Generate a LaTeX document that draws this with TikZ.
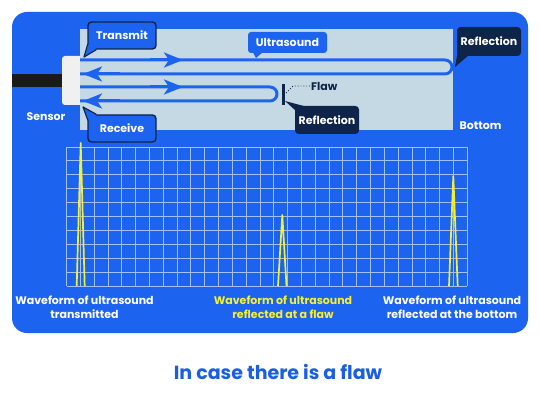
\documentclass[tikz,border=0pt]{standalone}
\usepackage{fontspec}
\setmainfont{Poppins}
\usetikzlibrary{arrows.meta,calc}
\definecolor{mainblue}{RGB}{28,100,240}
\definecolor{spec}{RGB}{197,217,228}
\definecolor{navy}{RGB}{14,36,72}
\definecolor{wy}{RGB}{245,240,50}
\definecolor{titleblue}{RGB}{26,95,225}
\definecolor{cable}{RGB}{26,26,26}
\definecolor{sensorw}{RGB}{240,240,240}
\definecolor{gridc}{RGB}{160,192,248}
\begin{document}
\begin{tikzpicture}[x=1pt,y=-1pt,
  lblfont/.style={font=\bfseries\fontsize{11}{13}\selectfont},
  lbl/.style={lblfont, text=white, inner sep=0pt},
  callbox/.style={lblfont, draw=navy, line width=1.4pt, fill=mainblue, rounded corners=3.5pt, text=white, inner sep=0pt},
  navybox/.style={lblfont, fill=navy, rounded corners=3.5pt, text=white, inner sep=0pt},
  bluebox/.style={lblfont, fill=mainblue, rounded corners=3pt, text=white, inner sep=0pt},
  wave/.style={draw=mainblue, line width=3pt},
  wavetip/.style={wave, -{Stealth[length=19pt,width=15pt,inset=5pt]}},
  gridline/.style={draw=gridc, line width=0.9pt},
  peak/.style={draw=wy, line width=1.7pt, line join=round},
  caption/.style={font=\bfseries\fontsize{11}{14}\selectfont, align=center, inner sep=0pt}]
\fill[white] (0,0) rectangle (540,406);
\useasboundingbox (0,0) rectangle (540,406);
% panel
\fill[mainblue, rounded corners=15pt] (12,12) rectangle (528,333);
% cable and sensor
\fill[cable] (12,74) rectangle (64,87);
\fill[sensorw, rounded corners=3pt] (62,56) rectangle (86,105);
% specimen
\fill[spec] (80,29) rectangle (453,130);
% ultrasound paths
\draw[wave, rounded corners=7pt] (80,60) -- (452,60) -- (452,74) -- (80,74);
\draw[wave, rounded corners=7pt] (80,87) -- (277,87) -- (277,101) -- (80,101);
\draw[wavetip] (150,60) -- (183,60);
\draw[wavetip] (150,87) -- (183,87);
\draw[wavetip] (120,74) -- (83,74);
\draw[wavetip] (120,101) -- (83,101);
% flaw
\coordinate (flawtop) at (283.5,84);
\coordinate (flawbot) at (283.5,105);
\draw[navy, line width=3pt] (flawtop) -- (flawbot);
\node[lblfont, text=navy, anchor=west, inner sep=0pt] (flawlbl) at (311,86) {Flaw};
\draw[navy, dotted, line width=0.9pt] (286,93) -- (293,86) -- (flawlbl.west);
% labels
\node[lbl] (sensor) at (46,117) {Sensor};
\node[lbl] (bottom) at (480.5,126) {Bottom};
% callouts
\node[callbox, minimum width=68pt, minimum height=27pt] (tx) at (122,35.5) {Transmit};
\coordinate (txtip) at (84,57);
\fill[mainblue] ($(tx.south west)+(1.5,-6)$) -- (txtip) -- ($(tx.south west)+(9,-0.8)$) -- cycle;
\draw[navy, line width=1.2pt, line join=round] ($(tx.south west)+(0.6,-6)$) -- (txtip) -- ($(tx.south west)+(9,0)$);

\node[callbox, minimum width=68pt, minimum height=27pt] (rx) at (122,128.5) {Receive};
\coordinate (rxtip) at (83,107);
\fill[mainblue] ($(rx.north west)+(1.5,6)$) -- (rxtip) -- ($(rx.north west)+(9,0.8)$) -- cycle;
\draw[navy, line width=1.2pt, line join=round] ($(rx.north west)+(0.6,6)$) -- (rxtip) -- ($(rx.north west)+(9,0)$);

\node[bluebox, minimum width=79pt, minimum height=21pt] (us) at (287.5,42.5) {Ultrasound};
\coordinate (ustip) at (256,58);
\fill[mainblue] ($(us.south west)+(5,-1)$) -- (ustip) -- ($(us.south west)+(15,-1)$) -- cycle;

\node[navybox, minimum width=64pt, minimum height=29pt] (rtop) at (489,41.5) {Reflection};
\coordinate (rtoptip) at (455,67);
\fill[navy] ($(rtop.south west)+(1,-5)$) -- (rtoptip) -- ($(rtop.south west)+(12,-1)$) -- cycle;

\node[navybox, minimum width=64pt, minimum height=28pt] (rflaw) at (327,120) {Reflection};
\coordinate (rflawtip) at (285,101);
\fill[navy] ($(rflaw.north west)+(1,5)$) -- (rflawtip) -- ($(rflaw.north west)+(12,1)$) -- cycle;
% grid
\foreach \i in {0,...,29} \draw[gridline] ({66.5+\i*13.82},147) -- ({66.5+\i*13.82},286);
\foreach \j in {0,...,10} \draw[gridline] (66.5,{147+\j*13.9}) -- (467.1,{147+\j*13.9});
% peaks
\draw[peak] (76.7,286) -- (80.7,143) -- (84.7,286);
\draw[peak] (278,286) -- (282.3,215) -- (286.5,286);
\draw[peak] (449,286) -- (453.3,176) -- (457.7,286);
% captions
\node[caption, text=white] (cap1) at (84.5,307) {Waveform of ultrasound\\transmitted};
\node[caption, text=wy] (cap2) at (283,307) {Waveform of ultrasound\\reflected at a flaw};
\node[caption, text=white] (cap3) at (452,307) {Waveform of ultrasound\\reflected at the bottom};
% title
\node[font=\bfseries\fontsize{19}{22}\selectfont, text=titleblue, inner sep=0pt] (title) at (278,372) {In case there is a flaw};
\end{tikzpicture}
\end{document}
